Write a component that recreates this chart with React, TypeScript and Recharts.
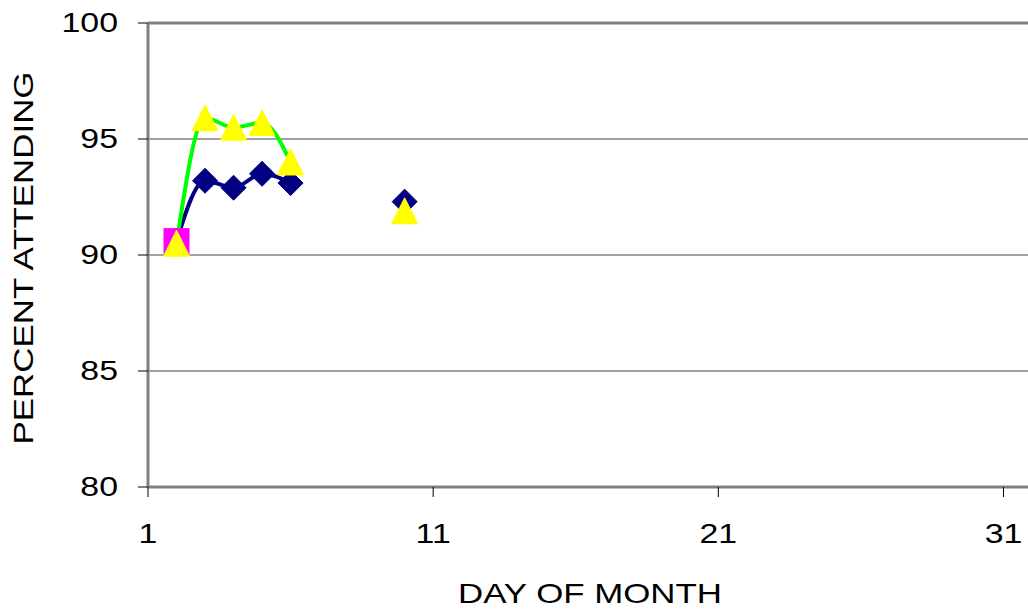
import React from 'react';
import { LineChart, Line, XAxis, YAxis, CartesianGrid, ReferenceLine } from 'recharts';

const days = [2, 3, 4, 5, 6, 7, 8, 9, 10];
const classA = [90.6, 93.2, 92.9, 93.5, 93.1, null, null, null, 92.3];
const classB = [90.5, 95.9, 95.5, 95.7, 94.0, null, null, null, 91.9];
const classC = [90.6, null, null, null, null, null, null, null, null];
const xTicks = [1, 11, 21, 31];
const yTicks = [80, 85, 90, 95, 100];

const data = days.map((d, i) => ({ day: d, a: classA[i], b: classB[i], c: classC[i] }));

const FONT = 'Liberation Sans, Arial, sans-serif';
const STRETCH = 1.21;

const Diamond = (props: any) => {
  const { cx, cy, index } = props;
  if (cx == null || cy == null || props.value == null) return <g key={`d${index}`} />;
  const r = 12.5;
  return (
    <path key={`d${index}`} d={`M${cx},${cy - r}L${cx + r},${cy}L${cx},${cy + r}L${cx - r},${cy}Z`} fill="#000080" stroke="#000080" strokeWidth={1} strokeLinejoin="round" />
  );
};

const Triangle = (props: any) => {
  const { cx, cy, index } = props;
  if (cx == null || cy == null || props.value == null) return <g key={`t${index}`} />;
  const h = 12.5;
  return (
    <path key={`t${index}`} d={`M${cx},${cy - h}L${cx + h},${cy + h}L${cx - h},${cy + h}Z`} fill="#FFFF00" stroke="#FFFF00" strokeWidth={1.5} strokeLinejoin="round" />
  );
};

const Square = (props: any) => {
  const { cx, cy, index } = props;
  if (cx == null || cy == null || props.value == null) return <g key={`s${index}`} />;
  const h = 13;
  return <rect key={`s${index}`} x={cx - h} y={cy - h} width={2 * h} height={2 * h} fill="#FF00FF" />;
};

const YTick = (props: any) => {
  const { x, y, payload } = props;
  return (
    <text transform={`translate(${x},${y + 9}) scale(${STRETCH},1)`} textAnchor="end" fontFamily={FONT} fontSize={28} fill="#000">
      {payload.value}
    </text>
  );
};

const XTick = (props: any) => {
  const { x, y, payload } = props;
  return (
    <text transform={`translate(${x},${y + 46}) scale(${STRETCH},1)`} textAnchor="middle" fontFamily={FONT} fontSize={28} fill="#000">
      {payload.value}
    </text>
  );
};

const YTitle = (props: any) => {
  const vb = props.viewBox || { x: 0, y: 23, width: 148, height: 464 };
  const x = vb.x + 33;
  const y = vb.y + vb.height / 2 + 3;
  return (
    <text x={x} y={y} transform={`rotate(-90 ${x} ${y})`} textAnchor="middle" fontFamily={FONT} fontSize={28} fill="#000" textLength={373} lengthAdjust="spacingAndGlyphs">
      PERCENT ATTENDING
    </text>
  );
};

const XTitle = (props: any) => {
  const vb = props.viewBox || { x: 148, y: 487, width: 884, height: 125 };
  const x = 590;
  const y = vb.y + 116;
  return (
    <text x={x} y={y} textAnchor="middle" fontFamily={FONT} fontSize={28} fill="#000" textLength={264} lengthAdjust="spacingAndGlyphs">
      DAY OF MONTH
    </text>
  );
};

export default function App() {
  return (
    <div style={{ position: 'absolute', left: 0, top: 0, width: 1028, height: 612, overflow: 'hidden', background: '#fff' }}>
      <LineChart width={1040} height={612} data={data} margin={{ top: 23, right: 8, left: 0, bottom: 0 }}>
        <CartesianGrid vertical={false} stroke="#444" strokeWidth={1} />
        <XAxis
          type="number"
          dataKey="day"
          domain={[1, 32]}
          ticks={xTicks}
          allowDataOverflow
          height={125}
          tickSize={10}
          tickMargin={0}
          tickLine={{ stroke: '#000', strokeWidth: 1 }}
          axisLine={{ stroke: '#808080', strokeWidth: 3 }}
          tick={<XTick />}
          label={<XTitle />}
        />
        <YAxis
          type="number"
          domain={[80, 100]}
          ticks={yTicks}
          width={148}
          tickSize={10}
          tickMargin={20}
          tickLine={{ stroke: '#000', strokeWidth: 1 }}
          axisLine={{ stroke: '#808080', strokeWidth: 3 }}
          tick={<YTick />}
          label={<YTitle />}
        />
        <ReferenceLine y={100} stroke="#808080" strokeWidth={3} />
        <Line dataKey="a" type="monotone" stroke="#000080" strokeWidth={4} dot={Diamond} activeDot={false} isAnimationActive={false} connectNulls={false} />
        <Line dataKey="b" type="monotone" stroke="#00FF00" strokeWidth={4} dot={false} activeDot={false} isAnimationActive={false} connectNulls={false} />
        <Line dataKey="c" type="monotone" stroke="none" dot={Square} activeDot={false} isAnimationActive={false} />
        <Line dataKey="b" type="monotone" stroke="none" dot={Triangle} activeDot={false} isAnimationActive={false} connectNulls={false} />
      </LineChart>
    </div>
  );
}
